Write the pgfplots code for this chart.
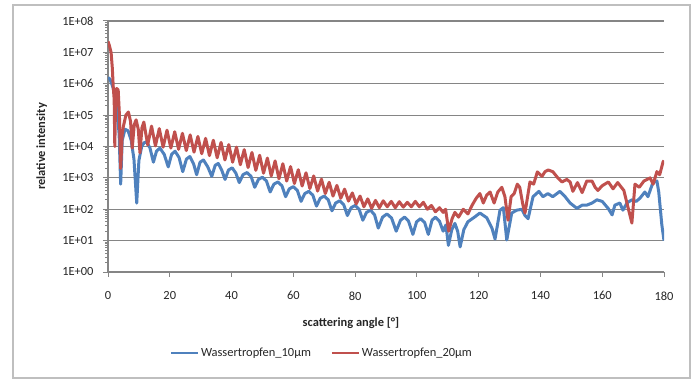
\documentclass[border=0pt]{standalone}
\usepackage{fontspec}
\setmainfont{Carlito}
\usepackage{pgfplots}
\pgfplotsset{compat=1.18}
\definecolor{serblue}{HTML}{4F81BD}
\definecolor{serred}{HTML}{C0504D}
\definecolor{gridgray}{HTML}{858585}
\definecolor{framegray}{HTML}{BFBFBF}
\begin{document}
\begin{tikzpicture}
\useasboundingbox (0,0) rectangle (696bp,380bp);
\draw[framegray, line width=1.2bp] (13bp,2bp) rectangle (690bp,375bp);
\begin{axis}[
  at={(108bp,108bp)}, anchor=south west,
  scale only axis, width=556bp, height=251bp,
  ymode=log, ymin=1, ymax=1e8, xmin=0, xmax=180,
  xtick={0,20,...,180},
  ytick={1,1e1,1e2,1e3,1e4,1e5,1e6,1e7,1e8},
  yticklabels={1E+00,1E+01,1E+02,1E+03,1E+04,1E+05,1E+06,1E+07,1E+08},
  minor ytick={}, minor xtick={},
  axis x line*=bottom, axis y line*=left,
  axis line style={gridgray, line width=1.1bp, -},
  ymajorgrids, grid style={gridgray, line width=1.2bp},
  tick align=outside, major tick length=5bp,
  tick style={gridgray, line width=1bp},
  /pgf/number format/assume math mode=true,
  ticklabel style={font=\fontsize{12.5}{14}\selectfont, text=black!85},
  xticklabel style={yshift=-11bp},
  yticklabel style={xshift=-6bp},
  xlabel={\textbf{scattering angle [°]}},
  ylabel={\textbf{relative intensity}},
  label style={font=\fontsize{12.5}{14}\selectfont, text=black!85},
  xlabel style={at={(axis description cs:0.437,-0.203)}, anchor=center},
  ylabel style={at={(axis description cs:-0.119,0.5)}, anchor=center, rotate=0},
  legend columns=2,
  legend style={at={(axis description cs:0.385,-0.323)}, anchor=center, draw=none, fill=none,
    font=\fontsize{12.5}{14}\selectfont, text=black!85,
    /tikz/every even column/.append style={column sep=18bp}},
  legend image code/.code={\draw[#1, line width=1.8bp] (0bp,0bp) -- (27bp,0bp);},
]
\addplot[serblue, line width=3bp, line join=round] coordinates {
(0,1.58e6)(0.6,1.41e6)(1.2,1.0e6)(1.7,7.08e5)(2.3,3.55e5)(3.0,1.12e5)(3.6,2.51e4)(4.1,6.31e2)(4.6,1.58e4)(5.5,3.55e4)
(6.5,3.16e4)(7.5,1.58e4)(8.4,3.98e3)(9.3,1.58e2)(10.0,3.55e3)(10.9,1.0e4)(11.7,1.32e4)(12.5,1.41e4)(13.6,8.91e3)(14.7,3.16e3)
(15.7,7.08e3)(16.8,8.91e3)(18.2,5.62e3)(19.5,2.24e3)(20.6,5.62e3)(21.7,7.08e3)(23.0,4.47e3)(24.2,1.58e3)(25.4,3.98e3)(26.5,4.79e3)
(27.7,2.82e3)(28.7,1.26e3)(29.8,3.16e3)(30.9,3.72e3)(32.3,2.24e3)(33.6,1.12e3)(34.7,2.51e3)(35.7,2.88e3)(36.8,1.78e3)(37.9,8.91e2)
(39.0,1.78e3)(40.2,2.09e3)(41.4,1.41e3)(42.5,7.08e2)(43.7,1.26e3)(45.0,1.48e3)(46.3,1.12e3)(47.5,5.01e2)(48.7,8.91e2)(50.0,1.05e3)
(51.3,7.94e2)(52.5,3.55e2)(53.7,6.31e2)(55.0,7.41e2)(56.3,5.62e2)(57.5,2.51e2)(58.7,4.47e2)(60.0,5.25e2)(61.3,3.98e2)(62.5,1.78e2)
(63.7,3.16e2)(65.0,3.72e2)(66.3,2.82e2)(67.5,1.26e2)(68.7,2.24e2)(70.0,2.63e2)(71.3,2.0e2)(72.5,8.91e1)(73.7,1.58e2)(75.0,1.86e2)
(76.3,1.41e2)(77.5,6.31e1)(78.7,1.12e2)(80.0,1.32e2)(81.3,1.0e2)(82.5,4.47e1)(83.7,7.94e1)(85.0,9.33e1)(86.3,6.61e1)(87.5,2.51e1)
(88.9,5.62e1)(90.3,7.08e1)(91.8,5.25e1)(93.3,2.0e1)(94.7,4.47e1)(96.0,5.62e1)(97.3,4.17e1)(98.7,1.58e1)(99.9,3.98e1)(101.2,5.01e1)
(102.5,3.80e1)(103.7,1.58e1)(104.9,4.47e1)(106.0,5.62e1)(107.3,4.17e1)(108.5,2.0e1)(109.4,3.16e1)(110.2,7.08)(111.3,2.24e1)(112.3,3.55e1)
(113.2,2.0e1)(114.0,6.31)(115.2,2.24e1)(116.5,3.98e1)(118.8,5.75e1)(120.4,7.59e1)(122.6,5.37e1)(124.3,2.51e1)(125.3,1.12e1)(126.9,9.33e1)
(128.0,1.12e2)(129.1,1.05e1)(130.7,7.59e1)(132.3,9.33e1)(134.0,1.0e2)(135.0,6.31e1)(136.0,5.01e1)(137.6,2.51e2)(139.5,3.72e2)(140.8,2.51e2)
(142.4,3.16e2)(144.0,2.51e2)(146.3,3.72e2)(148.0,2.51e2)(149.6,1.58e2)(151.8,1.07e2)(153.5,1.35e2)(155.0,1.35e2)(156.7,1.58e2)(158.3,2.0e2)
(160.0,1.78e2)(161.9,1.07e2)(163.2,6.61e1)(164.1,1.35e2)(165.7,1.58e2)(166.7,9.33e1)(168.0,1.58e2)(169.6,2.0e2)(171.0,1.78e2)(172.2,2.24e2)
(173.8,3.55e2)(174.8,2.51e2)(176.4,7.08e2)(177.7,7.94e2)(178.3,3.55e2)(179.3,3.16e1)(180.0,1.0e1)
};
\addlegendentry{Wassertropfen\_10µm}
\addplot[serred, line width=3bp, line join=round] coordinates {
(0,2.24e7)(0.5,1.58e7)(1.0,1.0e7)(1.4,3.16e6)(1.7,7.94e5)(2.0,3.16e5)(2.2,1.0e4)(2.5,3.98e5)(2.8,7.08e5)(3.3,6.31e5)
(3.7,1.0e5)(4.1,2.0e3)(4.6,2.51e4)(5.0,4.47e4)(5.8,1.0e5)(6.6,1.26e5)(7.3,6.31e4)(7.85,8.91e3)(8.5,5.01e4)(9.1,7.08e4)
(9.8,3.55e4)(10.35,6.31e3)(11.0,3.98e4)(11.6,6.03e4)(12.85,1.12e4)(14.1,4.47e4)(15.35,1.05e4)(16.6,3.72e4)(17.85,9.55e3)(19.1,3.31e4)
(20.35,8.91e3)(21.6,2.95e4)(22.85,8.13e3)(24.1,2.63e4)(25.35,7.41e3)(26.6,2.34e4)(27.85,6.61e3)(29.1,2.09e4)(30.35,5.89e3)(31.6,1.82e4)
(32.85,5.13e3)(34.1,1.58e4)(35.35,4.37e3)(36.6,1.35e4)(37.85,3.72e3)(39.1,1.15e4)(40.35,3.16e3)(41.6,9.55e3)(42.85,2.63e3)(44.1,7.94e3)
(45.35,2.14e3)(46.6,6.46e3)(47.85,1.74e3)(49.1,5.25e3)(50.35,1.41e3)(51.6,4.27e3)(52.85,1.15e3)(54.1,3.47e3)(55.35,9.33e2)(56.6,2.82e3)
(57.85,7.94e2)(59.1,2.29e3)(60.35,6.61e2)(61.6,1.82e3)(62.85,5.50e2)(64.1,1.45e3)(65.35,4.57e2)(66.6,1.15e3)(67.85,3.80e2)(69.1,9.12e2)
(70.35,3.16e2)(71.6,7.24e2)(72.85,2.63e2)(74.1,5.75e2)(75.35,2.24e2)(76.6,4.37e2)(77.85,1.82e2)(79.1,3.31e2)(80.35,1.48e2)(81.6,2.63e2)
(82.85,1.20e2)(84.1,2.14e2)(85.35,1.07e2)(86.6,1.91e2)(87.85,1.12e2)(89.1,1.86e2)(90.4,1.20e2)(91.7,1.78e2)(93.0,1.12e2)(94.3,1.74e2)
(95.6,1.17e2)(96.9,1.66e2)(98.2,1.20e2)(99.5,1.78e2)(100.8,1.20e2)(102.1,1.66e2)(103.4,1.0e2)(104.7,1.32e2)(106.0,8.32e1)(107.3,1.12e2)
(108.5,7.94e1)(109.3,1.0e2)(110.3,2.0e1)(111.4,5.01e1)(112.3,7.94e1)(113.5,5.62e1)(115.0,1.0e2)(116.5,7.08e1)(118.0,1.41e2)(119.2,2.24e2)
(120.4,3.16e2)(121.5,1.58e2)(122.6,2.82e2)(123.7,3.55e2)(125.0,1.58e2)(126.2,3.55e2)(127.5,5.01e2)(128.5,2.51e2)(129.5,4.47e1)(130.5,2.51e2)
(131.5,3.16e2)(132.5,6.31e2)(133.3,5.01e2)(134.3,1.41e2)(135.0,7.59e1)(136.0,3.16e2)(136.6,7.41e2)(137.8,6.31e2)(139.0,1.55e3)(140.5,1.12e3)
(141.5,1.58e3)(142.5,1.78e3)(144.0,1.58e3)(145.7,9.77e2)(147.0,7.41e2)(148.5,8.91e2)(149.6,7.41e2)(150.5,3.72e2)(152.0,7.08e2)(153.5,3.39e2)
(155.0,7.94e2)(156.7,7.94e2)(157.7,5.01e2)(158.6,3.98e2)(160.0,5.62e2)(162.0,7.41e2)(163.5,4.47e2)(165.0,7.08e2)(167.0,3.98e2)(168.0,1.58e2)
(169.6,3.63e1)(170.6,6.31e2)(172.0,5.01e2)(173.5,7.94e2)(175.5,1.0e3)(176.5,6.31e2)(177.7,1.58e3)(178.6,1.26e3)(179.7,3.24e3)(180.0,3.55e3)
};
\addlegendentry{Wassertropfen\_20µm}
\end{axis}
\end{tikzpicture}
\end{document}
